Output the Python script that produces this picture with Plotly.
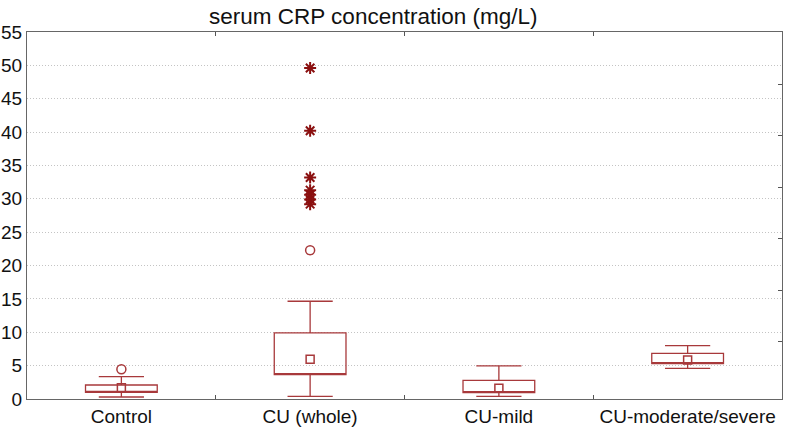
import plotly.graph_objects as go

# groups and box statistics (mg/L)
groups = ["Control", "CU (whole)", "CU-mild", "CU-moderate/severe"]
q1 = [1.0, 3.65, 0.95, 5.3]
q3 = [2.1, 9.9, 2.8, 6.85]
medians = [1.7, 5.95, 1.6, 5.85]
whisker_low = [0.3, 0.4, 0.4, 4.6]
whisker_high = [3.35, 14.65, 4.95, 8.0]

# outliers (circles) and extremes (asterisks)
outlier_groups = ["Control", "CU (whole)"]
outlier_values = [4.45, 22.3]
extreme_groups = ["CU (whole)"] * 7
extreme_values = [49.6, 40.2, 33.2, 31.3, 30.6, 29.9, 29.2]

box_color = "#a8393b"
dark_red = "#8b1010"

fig = go.Figure()

# median drawn as a square marker, so the box's own median line is hidden on q1
fig.add_trace(go.Box(
    x=groups,
    q1=q1,
    median=q1,
    q3=q3,
    lowerfence=whisker_low,
    upperfence=whisker_high,
    boxpoints=False,
    width=0.38,
    whiskerwidth=0.63,
    line=dict(color=box_color, width=1.3),
    fillcolor="rgba(0,0,0,0)",
    hoverinfo="skip",
))

fig.add_trace(go.Scatter(
    x=groups, y=medians, mode="markers",
    marker=dict(symbol="square-open", size=8, color=box_color, line=dict(width=1.5)),
))

fig.add_trace(go.Scatter(
    x=outlier_groups, y=outlier_values, mode="markers",
    marker=dict(symbol="circle-open", size=9, color=box_color, line=dict(width=1.5)),
))

fig.add_trace(go.Scatter(
    x=extreme_groups, y=extreme_values, mode="markers",
    marker=dict(symbol="asterisk-open", size=10, color=dark_red, line=dict(width=2, color=dark_red)),
))

# invisible trace on the right-hand axis so its ticks are drawn
fig.add_trace(go.Scatter(x=groups[:1], y=[None], yaxis="y2", showlegend=False))

fig.update_layout(
    width=785,
    height=429,
    margin=dict(l=27, r=3, t=32, b=30),
    plot_bgcolor="white",
    paper_bgcolor="white",
    showlegend=False,
    font=dict(family="Liberation Sans, Arial, sans-serif", size=19, color="#111"),
    xaxis=dict(
        type="category",
        tickson="boundaries",
        ticks="inside",
        ticklen=4,
        tickcolor="#555",
        showline=True,
        linecolor="#666",
        linewidth=1.2,
        mirror="ticks",
        showgrid=False,
        range=[-0.5, 3.5],
        automargin=False,
    ),
    yaxis=dict(
        range=[0, 55],
        dtick=5,
        ticks="",
        showline=True,
        linecolor="#666",
        linewidth=1.2,
        mirror=True,
        showgrid=True,
        gridcolor="#c4c4c4",
        griddash="1px,2px",
        gridwidth=1,
        zeroline=False,
        automargin=False,
    ),
    yaxis2=dict(
        overlaying="y",
        side="right",
        range=[-0.107, 7.019],
        tickvals=[1, 2, 3, 4, 5, 6],
        showticklabels=False,
        ticks="inside",
        ticklen=4,
        tickcolor="#555",
        showgrid=False,
        zeroline=False,
        showline=False,
        automargin=False,
    ),
    annotations=[dict(
        text="serum CRP concentration (mg/L)",
        xref="paper", yref="paper",
        x=0.458, y=1.0, yshift=16,
        xanchor="center", yanchor="middle",
        showarrow=False,
        font=dict(size=22.5),
    )],
)

# drop the page's default body margin so the figure fills the window
fig.write_html("out.html", config={"displayModeBar": False},
               post_script="document.body.style.margin = '0';")
